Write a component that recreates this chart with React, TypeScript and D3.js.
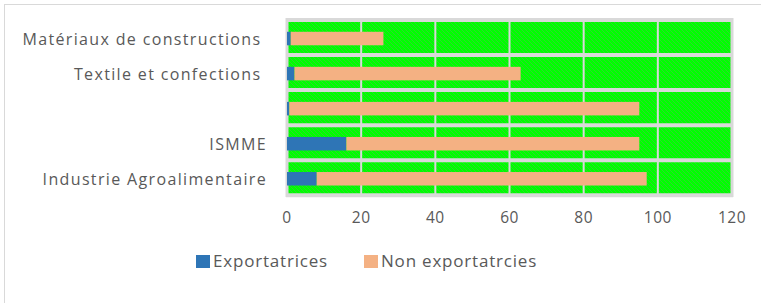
import React from "react";
import * as d3 from "d3";

const categories = [
  "Matériaux de constructions ",
  "Textile et confections ",
  "",
  "ISMME",
  "Industrie Agroalimentaire",
];
const exportatrices = [1, 2, 0.6, 16, 8];
const nonExportatrices = [25, 61, 94.4, 79, 89];
const xTicks = [0, 20, 40, 60, 80, 100, 120];
const seriesNames = ["Exportatrices", "Non exportatrcies"];

const W = 761;
const H = 303;
const FONT = "'Open Sans', 'Liberation Sans', sans-serif";
const BLUE = "#2e75b6";
const ORANGE = "#f4b183";
const GRID = "#d9d9d9";

export default function App() {
  const x = d3.scaleLinear().domain([0, 120]).range([287, 732]);
  const y = d3.scaleBand<string>().domain(categories.map((c, i) => i + "")).range([20, 195.3]).paddingInner(0);
  const barH = 13.5;
  const bounds = categories.map((_, i) => y(i + "")!).concat([y.range()[1]]);

  return (
    <svg width={W} height={H} style={{ position: "absolute", left: 0, top: 0, background: "#fff" }}>
      <defs>
        <pattern id="grn" width="4" height="4" patternUnits="userSpaceOnUse">
          <rect width="4" height="4" fill="#00ff00" />
          <rect x="0" y="0" width="1" height="1" fill="#2fd62f" />
          <rect x="1" y="1" width="1" height="1" fill="#2fd62f" />
          <rect x="2" y="2" width="1" height="1" fill="#2fd62f" />
          <rect x="3" y="3" width="1" height="1" fill="#2fd62f" />
        </pattern>
      </defs>
      <rect x={4.5} y={4.5} width={W + 10} height={H + 10} fill="#fff" stroke="#d9d9d9" strokeWidth={1} />
      <rect x={x(0) - 1} y={18} width={x(120) - x(0) + 2} height={197 - 18} fill="url(#grn)" />
      {xTicks.map((t, i) => (
        <line key={"v" + i} x1={x(t)} x2={x(t)} y1={18} y2={197} stroke={GRID}
          strokeWidth={i === 0 || i === xTicks.length - 1 ? 3 : 2} />
      ))}
      {bounds.map((b, i) => (
        <line key={"h" + i} x1={x(0) - 1} x2={x(120) + 1} y1={b} y2={b} stroke={GRID} strokeWidth={4} />
      ))}
      {categories.map((c, i) => {
        const cy = y(i + "")! + y.bandwidth() / 2 + 1;
        const a = exportatrices[i];
        const b = nonExportatrices[i];
        return (
          <g key={"b" + i}>
            <rect x={x(0)} y={cy - barH / 2} width={x(a) - x(0)} height={barH} fill={BLUE} />
            <rect x={x(a)} y={cy - barH / 2} width={x(a + b) - x(a)} height={barH} fill={ORANGE} />
          </g>
        );
      })}
      {categories.map((c, i) => (
        <text key={"l" + i} x={267} y={y(i + "")! + y.bandwidth() / 2 + 3} textAnchor="end"
          dominantBaseline="middle" fontFamily={FONT} fontSize={16} letterSpacing={1.35} fill="#595959"
          style={{ whiteSpace: "pre" }}>
          {c}
        </text>
      ))}
      {xTicks.map((t) => (
        <text key={"t" + t} x={x(t)} y={219} textAnchor="middle" dominantBaseline="middle"
          fontFamily={FONT} fontSize={15.5} letterSpacing={0.5} fill="#595959">
          {t}
        </text>
      ))}
      <rect x={196} y={255} width={14} height={13} fill={BLUE} />
      <text x={213} y={262} dominantBaseline="middle" fontFamily={FONT} fontSize={17} letterSpacing={0.8} fill="#595959">{seriesNames[0]}</text>
      <rect x={364} y={255} width={14} height={13} fill={ORANGE} />
      <text x={381} y={262} dominantBaseline="middle" fontFamily={FONT} fontSize={17} letterSpacing={0.8} fill="#595959">{seriesNames[1]}</text>
    </svg>
  );
}
